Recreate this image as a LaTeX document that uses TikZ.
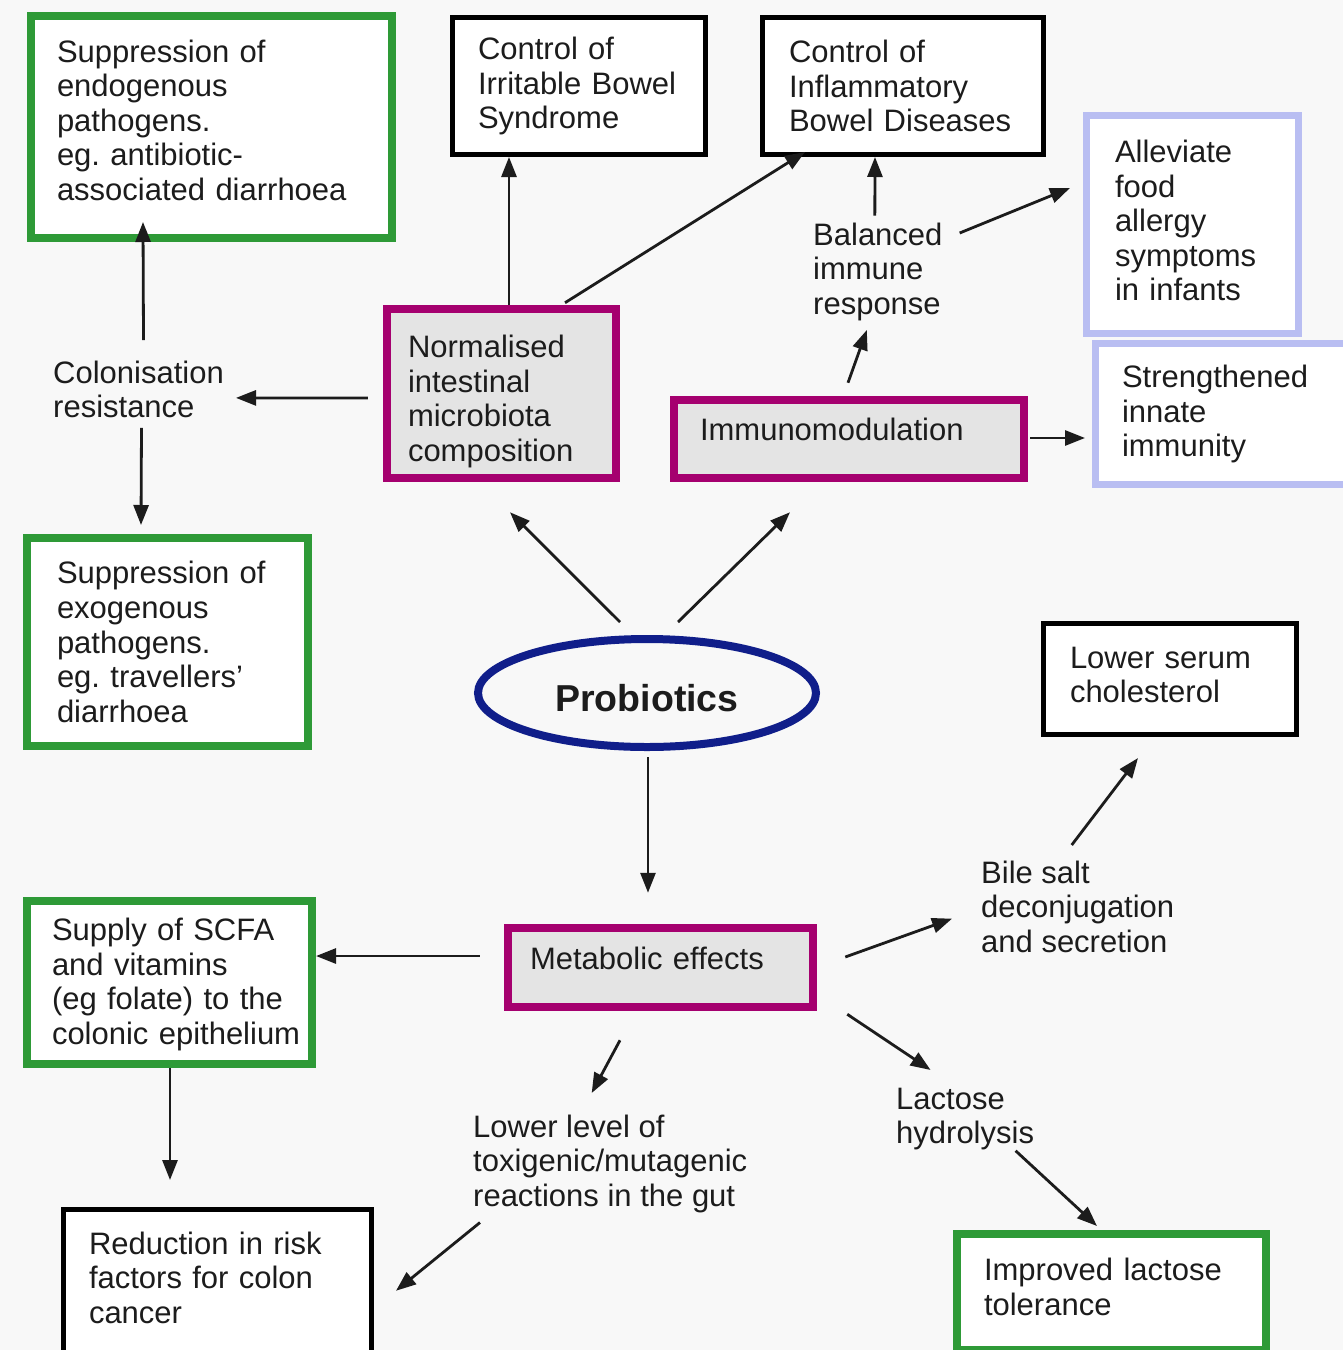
\documentclass[tikz,border=0pt]{standalone}
\usepackage{fontspec}
\setmainfont{Liberation Sans}
\usetikzlibrary{arrows.meta,shapes.geometric,calc}
\definecolor{gbox}{HTML}{2E9A37}
\definecolor{mbox}{HTML}{A5006F}
\definecolor{bbox}{HTML}{B9BEF2}
\definecolor{ell}{HTML}{101E8A}
\definecolor{gfill}{HTML}{E4E4E4}
\definecolor{bg}{HTML}{F8F8F8}
\definecolor{ink}{HTML}{1C1C1C}
\newcommand\dn[1]{\rule[-#1pt]{0pt}{#1pt}}
\newcommand\upr[1]{\rule{0pt}{#1pt}}
\frenchspacing
\begin{document}
\begin{tikzpicture}[x=1pt,y=-1pt,
 txt/.style={font=\fontsize{31}{34.6}\selectfont, text=ink},
 box/.style={txt, rectangle, align=left, inner ysep=0pt, fill=white},
 blackbox/.style={box, draw=black, line width=5pt},
 greenbox/.style={box, draw=gbox, line width=8pt},
 bluebox/.style={box, draw=bbox, line width=7pt},
 magbox/.style={box, draw=mbox, line width=8.5pt, fill=gfill},
 plain/.style={txt, align=left, inner sep=0pt, anchor=north west},
 arr/.style={-{Triangle[length=20pt,width=15pt]}, line width=2.8pt, draw=ink},
]
\fill[bg] (0,0) rectangle (1343,1350);
\useasboundingbox (0,0) rectangle (1343,1350);

% boxes
\node[greenbox, minimum width=361pt, minimum height=222pt, text width=309pt, inner xsep=26pt] (endo) at (211.5,127)
 {Suppression of\\ endogenous\\ pathogens.\\ eg. antibiotic-\\ \mbox{associated diarrhoea}\dn{14}};
\node[blackbox, minimum width=253pt, minimum height=137pt, text width=202pt, inner xsep=25.5pt] (ibs) at (579,86)
 {Control of\\ \mbox{Irritable Bowel}\\ Syndrome};
\node[blackbox, minimum width=281pt, minimum height=137pt, text width=228pt, inner xsep=26.5pt] (ibd) at (903,86)
 {Control of\\ Inflammatory\\ \mbox{Bowel Diseases}};
\node[bluebox, minimum width=212pt, minimum height=218pt, text width=155pt, inner xsep=28.5pt] (allergy) at (1192.5,224.5)
 {Alleviate\\ food\\ allergy\\ symptoms\\ \mbox{in infants}\dn{8}};
\node[bluebox, minimum width=250.5pt, minimum height=141pt, text width=197.5pt, inner xsep=26.5pt] (innate) at (1220.75,414)
 {Strengthened\\ innate\\ immunity};
\node[magbox, minimum width=229pt, minimum height=169pt, text width=187pt, inner xsep=21pt] (norm) at (501.5,393.5)
 {\upr{38.6}Normalised\\ intestinal\\ microbiota\\ composition};
\node[magbox, minimum width=350pt, minimum height=78pt, text width=298pt, inner xsep=26pt] (immuno) at (849,439)
 {Immunomodulation\dn{20}};
\node[greenbox, minimum width=281pt, minimum height=208pt, text width=221pt, inner xsep=30pt] (exo) at (167.5,642)
 {Suppression of\\ exogenous\\ pathogens.\\ \mbox{eg. travellers'}\\ diarrhoea};
\node[blackbox, minimum width=253pt, minimum height=111pt, text width=200pt, inner xsep=26.5pt] (chol) at (1170,679)
 {Lower serum\\ cholesterol\dn{8}};
\node[greenbox, minimum width=285pt, minimum height=163pt, text width=235pt, inner xsep=25pt] (scfa) at (169.5,982.5)
 {\upr{26.6}\mbox{Supply of SCFA}\\ and vitamins\\ \mbox{(eg folate) to the}\\ \mbox{colonic epithelium}};
\node[magbox, minimum width=305pt, minimum height=79pt, text width=261pt, inner xsep=22pt] (meta) at (660.5,967.5)
 {Metabolic effects\dn{18}};
\node[blackbox, minimum width=308pt, minimum height=152.5pt, text width=257pt, inner xsep=25.5pt] (colon) at (217.5,1285.75)
 {\mbox{Reduction in risk}\\ \mbox{factors for colon}\\ cancer\dn{16}};
\node[greenbox, minimum width=309pt, minimum height=116pt, text width=255pt, inner xsep=27pt] (lacttol) at (1111.5,1292)
 {\mbox{Improved lactose}\\ tolerance\dn{10}};

% ellipse
\node[draw=ell, line width=8pt, ellipse, minimum width=338pt, minimum height=108pt, inner sep=0pt,
 text height=37.5pt, text depth=0pt,
 font=\fontsize{37.5}{40}\selectfont\bfseries, text=ink] (prob) at (647,693) {Probiotics};

% plain labels
\node[plain] (balanced) at (813,222.5) {Balanced\\ immune\\ response};
\node[plain] (coloni) at (53,360.5) {Colonisation\\ resistance};
\node[plain] (bile) at (981,860.5) {Bile salt\\ deconjugation\\ and secretion};
\node[plain] (lactose) at (896,1087.5) {Lactose\\ hydrolysis};
\node[plain] (lower) at (473,1114.5) {Lower level of\\ toxigenic/mutagenic\\ reactions in the gut};

% arrows
\draw[arr] ($(norm.north)+(7.5,0)$) -- ($(ibs.south)+(-70,0)$);
\draw[arr] ($(norm.north)+(63.5,-2)$) -- ($(ibd.south west)+(45,-5)$);
\draw[arr] ($(balanced.north)+(-3,-7)$) -- ($(ibd.south)+(-28,0)$);
\draw[arr] ($(balanced.north east)+(17,10.5)$) -- ($(allergy.west)+(-13,-36.5)$);
\draw[arr] ($(immuno.north)+(-1,-13)$) -- ($(balanced.south)+(-11,9)$);
\draw[arr] ($(immuno.east)+(2,-1)$) -- ($(innate.west)+(-7,24)$);
\draw[arr] ($(norm.west)+(-15,4.5)$) -- ($(coloni.east)+(12,8.5)$);
\draw[arr] ($(coloni.north)+(5,-20.5)$) -- ($(endo.south)+(-68.5,-20)$);
\draw[arr] ($(coloni.south)+(3,9.5)$) -- ($(exo.north)+(-26.5,-9)$);
\draw[arr] ($(prob.center)+(-27,-71)$) -- ($(norm.south)+(8.5,30)$);
\draw[arr] ($(prob.center)+(31,-71)$) -- ($(immuno.south)+(-59,30)$);
\draw[arr] ($(prob.south)+(1,6)$) -- ($(meta.north)+(-12.5,-31)$);
\draw[arr] ($(meta.west)+(-24,-11.5)$) -- ($(scfa.east)+(0,-26.5)$);
\draw[arr] ($(meta.east)+(28,-10.5)$) -- ($(bile.west)+(-29,12)$);
\draw[arr] ($(bile.north)+(-6,-15.5)$) -- ($(chol.south)+(-32,21)$);
\draw[arr] ($(meta.south)+(-40.5,29)$) -- ($(lower.north)+(-18.5,-21.5)$);
\draw[arr] ($(meta.south east)+(30,3)$) -- ($(lactose.north)+(-34.5,-17.5)$);
\draw[arr] ($(lactose.south)+(50.5,0.5)$) -- ($(lacttol.north)+(-14.5,-4)$);
\draw[arr] ($(scfa.south)+(0.5,0)$) -- ($(colon.north)+(-47.5,-27)$);
\draw[arr] ($(lower.south west)+(7,9.5)$) -- ($(colon.east)+(22,5)$);
\end{tikzpicture}
\end{document}
